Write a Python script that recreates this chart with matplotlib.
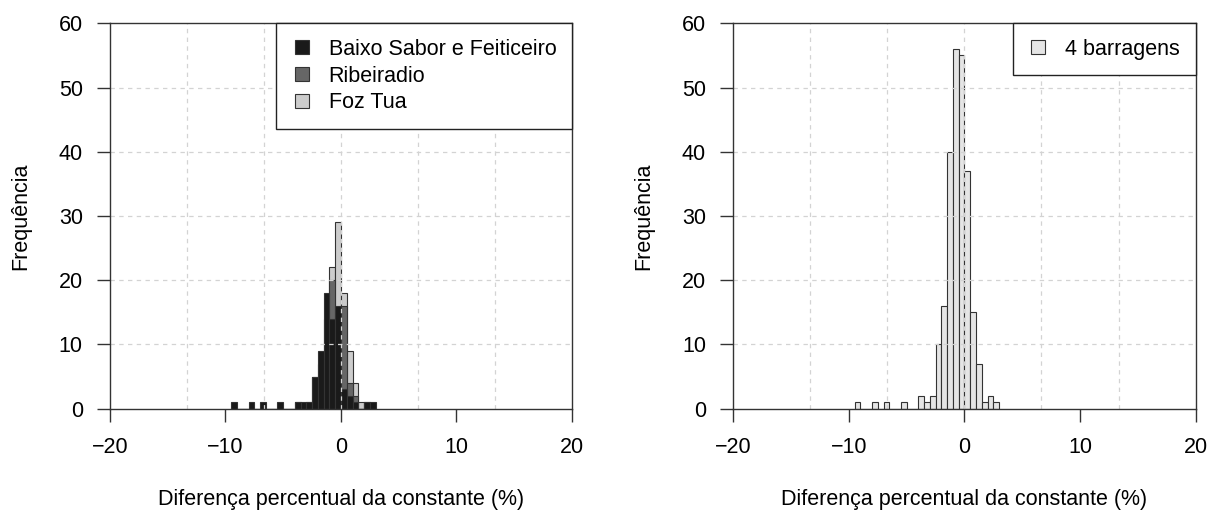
import numpy as np
import matplotlib
matplotlib.use("Agg")
import matplotlib.pyplot as plt
from matplotlib.patches import Patch, Rectangle
from matplotlib.legend_handler import HandlerPatch

plt.rcParams['font.family'] = ['Liberation Sans', 'DejaVu Sans']

# ---- data (histogram bins of width 0.5, left edges) ----
bin_left = [-9.5, -9.0, -8.5, -8.0, -7.5, -7.0, -6.5, -6.0, -5.5, -5.0, -4.5, -4.0,
            -3.5, -3.0, -2.5, -2.0, -1.5, -1.0, -0.5, 0.0, 0.5, 1.0, 1.5, 2.0, 2.5]
bin_width = 0.5

baixo_sabor = [1, 0, 0, 1, 0, 1, 0, 0, 1, 0, 0, 1,
               1, 1, 5, 9, 18, 14, 16, 3, 2, 1, 0, 1, 1]
ribeiradio = [0, 0, 0, 0, 0, 0, 0, 0, 0, 0, 0, 1,
              0, 1, 5, 7, 14, 20, 10, 16, 4, 2, 0, 1, 0]
foz_tua = [0, 0, 0, 0, 0, 0, 0, 0, 0, 0, 0, 0,
           0, 0, 0, 0, 8, 22, 29, 18, 9, 4, 1, 0, 0]
quatro_barragens = [1, 0, 0, 1, 0, 1, 0, 0, 1, 0, 0, 2,
                    1, 2, 10, 16, 40, 56, 55, 37, 15, 7, 1, 2, 1]

series_left = [("Foz Tua", foz_tua, "#CCCCCC"),
               ("Ribeiradio", ribeiradio, "#666666"),
               ("Baixo Sabor e Feiticeiro", baixo_sabor, "#1A1A1A")]
legend_order = ["Baixo Sabor e Feiticeiro", "Ribeiradio", "Foz Tua"]

x_ticks = [-20, -10, 0, 10, 20]
x_ticklabels = ["\u221220", "\u221210", "0", "10", "20"]
y_ticks = [0, 10, 20, 30, 40, 50, 60]
xlabel = "Diferença percentual da constante (%)"
ylabel = "Frequência"

FS = 15.5
SPINE = "#333333"
EDGE = "#333333"

fig = plt.figure(figsize=(12.10, 5.12), dpi=100)
ax1 = fig.add_axes([0.0909, 0.2018, 0.3818, 0.7527])
ax2 = fig.add_axes([0.6060, 0.2018, 0.3821, 0.7527])

grid_x = list(np.linspace(-20, 20, 7))
grid_y = [10, 20, 30, 40, 50]


def style(ax):
    ax.set_xlim(-20, 20)
    ax.set_ylim(0, 60)
    ax.set_xticks(x_ticks)
    ax.set_yticks(y_ticks)
    ax.set_xticklabels(x_ticklabels)
    for gx in grid_x[1:-1]:
        ax.axvline(gx, color="#D3D3D3", lw=0.9, ls=(0, (3.5, 3.5)), zorder=1.5)
    for gy in grid_y:
        ax.axhline(gy, color="#D3D3D3", lw=0.9, ls=(0, (3.5, 3.5)), zorder=1.5)
    for s in ax.spines.values():
        s.set_color(SPINE)
        s.set_linewidth(1.0)
        s.set_zorder(3)
    ax.tick_params(axis="both", direction="out", length=9.6, width=1.0,
                   color=SPINE, labelsize=FS)
    ax.tick_params(axis="x", pad=11)
    ax.tick_params(axis="y", pad=10)
    ax.set_xlabel(xlabel, fontsize=FS, labelpad=22)
    ax.set_ylabel(ylabel, fontsize=FS, labelpad=20)


def square_patch(legend, orig_handle, xdescent, ydescent, width, height, fontsize):
    s = 0.65 * fontsize
    return Rectangle((-xdescent + width - s, -ydescent + (height - s) / 2), s, s)


def make_legend(ax, hs, labels):
    leg = ax.legend(hs, labels, loc="upper right", bbox_to_anchor=(1, 1),
                    borderaxespad=0, fontsize=FS, frameon=True, fancybox=False,
                    framealpha=1, edgecolor="#222222", handlelength=0.8,
                    handleheight=0.7, handletextpad=0.93, labelspacing=0.27,
                    borderpad=0.72,
                    handler_map={Patch: HandlerPatch(patch_func=square_patch)})
    leg.get_frame().set_linewidth(1.0)
    leg.set_zorder(4)
    return leg


handles = {}
for name, counts, color in series_left:
    ax1.bar(bin_left, counts, width=bin_width, align="edge", color=color,
            edgecolor=EDGE, linewidth=0.8, zorder=1)
    handles[name] = Patch(facecolor=color, edgecolor=EDGE, linewidth=0.8)
style(ax1)
make_legend(ax1, [handles[n] for n in legend_order], legend_order)

ax2.bar(bin_left, quatro_barragens, width=bin_width, align="edge",
        color="#E5E5E5", edgecolor=EDGE, linewidth=0.8, zorder=1)
style(ax2)
make_legend(ax2, [Patch(facecolor="#E5E5E5", edgecolor=EDGE, linewidth=0.8)],
            ["4 barragens"])

fig.savefig("out.png", dpi=100)
